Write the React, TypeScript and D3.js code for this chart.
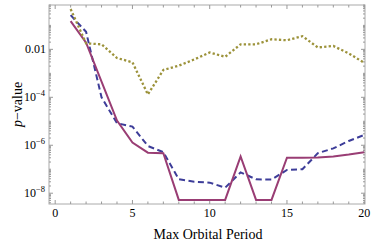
import * as React from 'react';
import * as d3 from 'd3';

const WIDTH = 374;
const HEIGHT = 243;
const M = { left: 49, right: 9, top: 5, bottom: 39 };

const periods = d3.range(1, 21);
// log10 p-values
const blueLog = [-0.57, -1.27, -4.0, -5.08, -5.22, -6.03, -6.29, -7.42, -7.52, -7.56, -7.77, -7.13, -7.42, -7.43, -7.03, -7.0, -6.33, -6.13, -5.82, -5.57];
const purpleLog = [-0.82, -1.72, -3.35, -4.97, -5.89, -6.31, -6.33, -8.28, -8.28, -8.28, -8.28, -6.47, -8.28, -8.28, -6.52, -6.52, -6.51, -6.47, -6.39, -6.29];
const oliveLog = [-0.32, -1.75, -1.79, -2.36, -2.54, -3.88, -2.86, -2.68, -2.42, -2.13, -2.31, -1.79, -1.79, -1.58, -1.62, -1.45, -1.92, -1.86, -2.17, -2.56];

const xTicks = [0, 5, 10, 15, 20];
const yTickExps = [-2, -4, -6, -8];

const series = [
  { values: blueLog, color: '#3d3d99', dash: '6,3.5', width: 2 },
  { values: purpleLog, color: '#993d74', dash: null, width: 2 },
  { values: oliveLog, color: '#9c923a', dash: '2.3,2.2', width: 2.3 },
];

const FONT = '"Liberation Serif", "DejaVu Serif", serif';

export default function App() {
  const x = d3.scaleLinear().domain([-0.4, 20.05]).range([M.left, WIDTH - M.right]);
  const y = d3.scaleLinear().domain([-8.45, -0.15]).range([HEIGHT - M.bottom, M.top]);
  const x0 = M.left, x1 = WIDTH - M.right, y0 = HEIGHT - M.bottom, y1 = M.top;

  const line = d3
    .line<number>()
    .x((_, i) => x(periods[i]))
    .y(d => y(d));

  const minorX = d3.range(0, 21).filter(v => v % 5 !== 0);
  const minorY: number[] = [];
  for (let e = -9; e <= 0; e++) {
    for (let m = 1; m <= 9; m++) {
      const v = e + Math.log10(m);
      if (m === 1 && e % 2 === 0) continue;
      if (v > -8.45 && v < -0.15) minorY.push(v);
    }
  }

  const tickColor = '#999';

  return (
    <svg width={WIDTH} height={HEIGHT} style={{ position: 'absolute', left: 0, top: 0 }}>
      <rect x={0} y={0} width={WIDTH} height={HEIGHT} fill="white" />
      {/* frame */}
      <rect x={x0} y={y1} width={x1 - x0} height={y0 - y1} fill="none" stroke="#aaa" strokeWidth={1} />
      {/* x ticks */}
      {xTicks.map(t => (
        <g key={'xt' + t}>
          <line x1={x(t)} x2={x(t)} y1={y0} y2={y0 - 4} stroke={tickColor} />
          <line x1={x(t)} x2={x(t)} y1={y1} y2={y1 + 4} stroke={tickColor} />
          <text x={x(t)} y={y0 + 13} textAnchor="middle" fontFamily={FONT} fontSize={12}>{t}</text>
        </g>
      ))}
      {minorX.map(t => (
        <g key={'xm' + t}>
          <line x1={x(t)} x2={x(t)} y1={y0} y2={y0 - 2.5} stroke={tickColor} />
          <line x1={x(t)} x2={x(t)} y1={y1} y2={y1 + 2.5} stroke={tickColor} />
        </g>
      ))}
      {/* y ticks */}
      {yTickExps.map(e => (
        <g key={'yt' + e}>
          <line x1={x0} x2={x0 + 4} y1={y(e)} y2={y(e)} stroke={tickColor} />
          <line x1={x1} x2={x1 - 4} y1={y(e)} y2={y(e)} stroke={tickColor} />
          {e === -2 ? (
            <text x={x0 - 3} y={y(e) + 4} textAnchor="end" fontFamily={FONT} fontSize={12}>0.01</text>
          ) : (
            <text x={x0 - 4} y={y(e) + 4} textAnchor="end" fontFamily={FONT} fontSize={12}>
              10<tspan dy={-5} fontSize={8.5}>{'\u2212' + Math.abs(e)}</tspan>
            </text>
          )}
        </g>
      ))}
      {minorY.map((v, i) => (
        <g key={'ym' + i}>
          <line x1={x0} x2={x0 + 2} y1={y(v)} y2={y(v)} stroke={tickColor} />
          <line x1={x1} x2={x1 - 2} y1={y(v)} y2={y(v)} stroke={tickColor} />
        </g>
      ))}
      {/* series */}
      {series.map((s, i) => (
        <path
          key={'s' + i}
          d={line(s.values) || ''}
          fill="none"
          stroke={s.color}
          strokeWidth={s.width}
          strokeDasharray={s.dash || undefined}
          strokeLinejoin="miter"
        />
      ))}
      {/* labels */}
      <text x={(x0 + x1) / 2 + 1} y={238.5} textAnchor="middle" fontFamily={FONT} fontSize={14}>Max Orbital Period</text>
      <text
        transform={`translate(22,${(y0 + y1) / 2}) rotate(-90)`}
        textAnchor="middle"
        fontFamily={FONT}
        fontSize={14}
      >
        <tspan fontStyle="italic">p</tspan>{'\u2212value'}
      </text>
    </svg>
  );
}
